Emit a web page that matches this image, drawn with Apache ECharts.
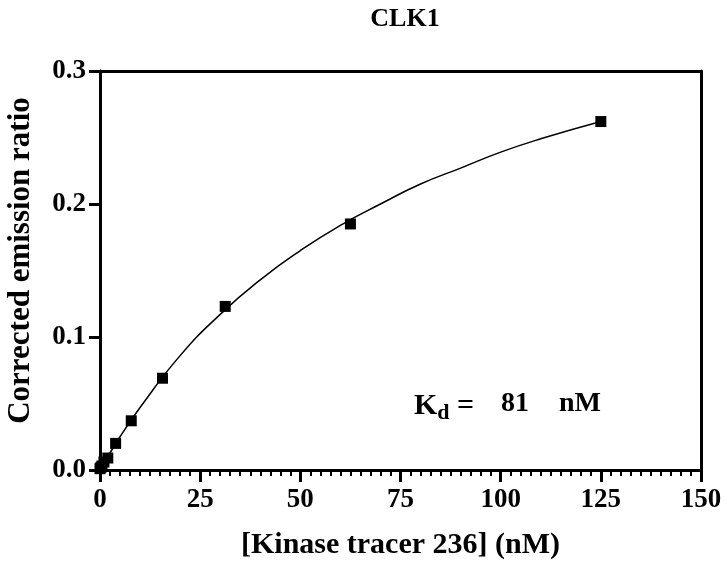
<!DOCTYPE html>
<html>
<head>
<meta charset="utf-8">
<script src="https://cdn.jsdelivr.net/npm/echarts@6/dist/echarts.min.js"></script>
<style>html,body{margin:0;padding:0;background:#fff}#c{width:725px;height:566px}</style>
</head>
<body>
<div id="c"></div>
<script>
// Measured points (tracer concentration nM, corrected emission ratio)
var tracerConc = [0, 0.24, 0.49, 0.98, 1.95, 3.9, 7.8, 15.6, 31.25, 62.5, 125];
var emissionRatio = [0.001, 0.002, 0.003, 0.006, 0.009, 0.020, 0.037, 0.069, 0.123, 0.185, 0.262];
// Fitted curve
var curveX = [0, 5, 10, 20, 30, 40, 50, 60, 70, 80, 90, 100, 110, 125];
var curveY = [0, 0.025, 0.047, 0.086, 0.117, 0.143, 0.165, 0.184, 0.200, 0.215, 0.227, 0.239, 0.249, 0.262];
var xTicks = [0, 25, 50, 75, 100, 125, 150];
var yTicks = [0.0, 0.1, 0.2, 0.3];

var FONT = 'Liberation Serif';
var chart = echarts.init(document.getElementById('c'));
var pts = tracerConc.map(function (x, i) { return [x, emissionRatio[i]]; });
var curve = curveX.map(function (x, i) { return [x, curveY[i]]; });

chart.setOption({
  backgroundColor: '#fff',
  animation: false,
  title: {
    text: 'CLK1', left: 400, top: 1, textAlign: 'center',
    textStyle: { fontFamily: FONT, fontWeight: 'bold', fontSize: 26, color: '#000' }
  },
  grid: { left: 100, right: 24, top: 71, bottom: 96, outerBoundsMode: 'none', containLabel: false },
  xAxis: [{
    type: 'value', min: 0, max: 150, interval: 25,
    name: '[Kinase tracer 236] (nM)', nameLocation: 'middle', nameGap: 60,
    nameTextStyle: { fontFamily: FONT, fontWeight: 'bold', fontSize: 30, color: '#000' },
    axisLine: { show: true, onZero: false, lineStyle: { color: '#000', width: 3 } },
    axisTick: { show: true, length: 12, lineStyle: { color: '#000', width: 3 } },
    minorTick: { show: true, splitNumber: 10, length: 6, lineStyle: { color: '#000', width: 2 } },
    axisLabel: { fontFamily: FONT, fontWeight: 'bold', fontSize: 27, color: '#000', margin: 17,
      formatter: function (v) { return xTicks.indexOf(v) >= 0 ? String(v) : ''; } },
    splitLine: { show: false }
  }, {
    type: 'value', min: 0, max: 150, position: 'top',
    axisLine: { show: true, onZero: false, lineStyle: { color: '#000', width: 3 } },
    axisTick: { show: false }, axisLabel: { show: false }, splitLine: { show: false }
  }],
  yAxis: [{
    type: 'value', min: 0, max: 0.3, interval: 0.1,
    name: 'Corrected emission ratio', nameLocation: 'middle', nameGap: 64,
    nameTextStyle: { fontFamily: FONT, fontWeight: 'bold', fontSize: 31, color: '#000', padding: [0, 0, 0, 20] },
    axisLine: { show: true, onZero: false, lineStyle: { color: '#000', width: 3 } },
    axisTick: { show: true, length: 11, lineStyle: { color: '#000', width: 3 } },
    axisLabel: { fontFamily: FONT, fontWeight: 'bold', fontSize: 27, color: '#000', margin: 14,
      formatter: function (v) { return v.toFixed(1); } },
    splitLine: { show: false }
  }, {
    type: 'value', min: 0, max: 0.3, position: 'right',
    axisLine: { show: true, onZero: false, lineStyle: { color: '#000', width: 3 } },
    axisTick: { show: false }, axisLabel: { show: false }, splitLine: { show: false }
  }],
  series: [{
    type: 'line', data: curve, smooth: true, symbol: 'none',
    lineStyle: { color: '#000', width: 1.5 }, z: 2
  }, {
    type: 'scatter', data: pts, symbol: 'rect', symbolSize: 11,
    itemStyle: { color: '#000', opacity: 1 }, z: 3
  }],
  graphic: [{
    type: 'text', left: 414, top: 391,
    style: {
      text: '{k|K}{d|d}{k| =}',
      rich: {
        k: { fontFamily: FONT, fontWeight: 'bold', fontSize: 30, fill: '#000' },
        d: { fontFamily: FONT, fontWeight: 'bold', fontSize: 22, fill: '#000', verticalAlign: 'bottom', padding: [14, 0, 0, 0] }
      }
    }
  }, {
    type: 'text', left: 501, top: 390,
    style: { text: '81', fontFamily: FONT, fontWeight: 'bold', fontSize: 28, fill: '#000' }
  }, {
    type: 'text', left: 559, top: 390,
    style: { text: 'nM', fontFamily: FONT, fontWeight: 'bold', fontSize: 28, fill: '#000' }
  }]
});
</script>
</body>
</html>
